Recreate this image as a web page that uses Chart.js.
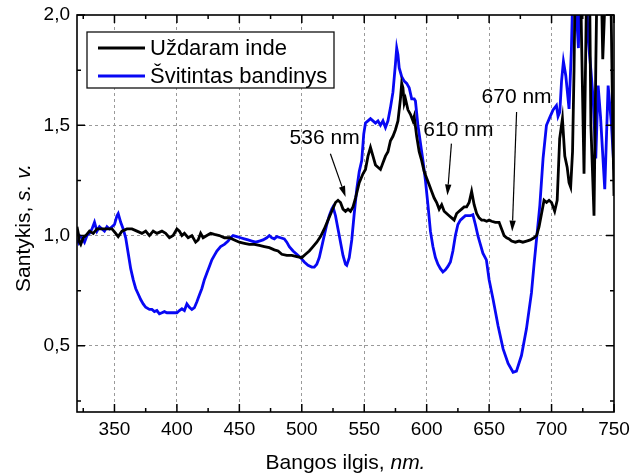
<!DOCTYPE html>
<html>
<head>
<meta charset="utf-8">
<script src="https://cdn.jsdelivr.net/npm/chart.js@4.4.1/dist/chart.umd.min.js"></script>
<style>
  html, body { margin: 0; padding: 0; background: #fff; }
  #wrap { width: 642px; height: 475px; }
</style>
</head>
<body>
<div id="wrap"><canvas id="chart"></canvas></div>
<script>
// series names
const seriesNames = ['Uždaram inde', 'Švitintas bandinys'];
const seriesColors = ['#000000', '#0808f4'];

// Uždaram inde (black)
const blackNm = [320, 321, 322, 323, 325, 327, 330, 333, 336, 340, 344, 348, 351, 353, 356, 360, 364, 368, 372, 375,
  378, 381, 384, 388, 391, 394, 397, 400, 402, 404, 406, 409, 412, 415, 417, 419, 421, 424, 427, 430,
  434, 438, 442, 446, 450, 454, 458, 462, 466, 470, 474, 478, 481, 484, 488, 492, 496, 500, 503, 506,
  509, 512, 515, 518, 521, 524, 527, 529, 531, 533, 535, 537, 539, 541, 543, 546, 549, 551, 553, 555,
  557, 559, 561, 563, 565, 567, 569, 571, 573, 575, 577, 579, 580, 581, 582, 583, 585, 587, 589, 590,
  592, 594, 596, 598, 600, 602, 604, 606, 608, 610, 612, 614, 616, 618, 620, 622, 624, 626, 628, 630,
  632, 634, 636, 638, 640, 642, 644, 646, 648, 650, 652, 655, 658, 660, 662, 664, 666, 668, 671, 674,
  677, 680, 683, 686, 688, 690, 692, 694, 696, 698, 700, 702.5, 704.5, 706.5, 708.7, 710.6, 712.5, 714, 715.3, 716.8,
  718, 719.5, 721, 723, 726, 728, 730, 731.5, 734, 735.5, 737, 739, 741, 743, 745, 747, 749, 750];
const blackVal = [1.04, 1.01, 0.97, 0.96, 0.99, 1.00, 1.02, 1.01, 1.03, 1.03, 1.03, 1.03, 1.01, 0.995, 1.02, 1.03, 1.03, 1.02, 1.01, 1.02,
  1.00, 1.02, 1.01, 1.02, 1.01, 0.99, 1.00, 1.03, 1.02, 1.00, 1.01, 0.99, 1.00, 0.97, 0.98, 1.01, 0.99, 1.00, 1.01, 1.005,
  1.00, 0.99, 0.99, 0.98, 0.97, 0.965, 0.96, 0.96, 0.955, 0.95, 0.945, 0.935, 0.93, 0.915, 0.91, 0.91, 0.905, 0.90, 0.915, 0.93,
  0.95, 0.97, 0.995, 1.03, 1.07, 1.11, 1.15, 1.16, 1.15, 1.12, 1.11, 1.12, 1.11, 1.13, 1.17, 1.24, 1.28, 1.30, 1.36, 1.40,
  1.36, 1.32, 1.31, 1.30, 1.33, 1.36, 1.38, 1.43, 1.45, 1.48, 1.52, 1.62, 1.69, 1.67, 1.60, 1.62, 1.57, 1.55, 1.52, 1.54,
  1.45, 1.38, 1.34, 1.29, 1.26, 1.23, 1.20, 1.17, 1.15, 1.12, 1.14, 1.11, 1.10, 1.09, 1.08, 1.07, 1.10, 1.11, 1.12, 1.13,
  1.13, 1.15, 1.20, 1.14, 1.10, 1.08, 1.07, 1.07, 1.065, 1.07, 1.065, 1.06, 1.06, 1.03, 1.00, 0.99, 0.985, 0.975, 0.97, 0.975,
  0.97, 0.975, 0.98, 0.99, 1.00, 1.04, 1.10, 1.16, 1.15, 1.16, 1.15, 1.11, 1.16, 1.44, 1.53, 1.36, 1.31, 1.24, 1.22, 1.38,
  1.75, 2.4, 2.4, 2.2, 1.28, 2.1, 2.4, 1.5, 1.09, 1.8, 2.4, 2.4, 1.8, 2.1, 2.4, 2.3, 1.5, 1.18];

// Švitintas bandinys (blue)
const blueNm = [320, 321, 322, 324, 326, 328, 330, 332, 334, 336, 338, 340, 342, 344, 346, 348, 350, 352, 353, 355,
  357, 359, 361, 363, 365, 367, 369, 371, 373, 375, 378, 380, 382, 384, 386, 388, 390, 392, 395, 398,
  400, 402, 404, 406, 408, 410, 412, 414, 416, 418, 420, 422, 424, 426, 428, 430, 432, 435, 438, 441,
  443, 445, 448, 451, 454, 457, 460, 463, 466, 469, 472, 474, 476, 478, 480, 483, 486, 488, 490, 493,
  496, 499, 502, 505, 508, 510, 512, 514, 516, 518, 520, 522, 524, 525, 527, 529, 531, 533, 535, 536,
  538, 540, 542, 544, 546, 548, 549.6, 551, 553, 555, 557, 559, 561, 563, 565, 567, 569, 571, 573, 575,
  576, 577, 578, 580, 582, 584, 586, 588, 590, 591, 593, 595, 597, 599, 601, 603, 605, 607, 609, 611,
  613, 615, 617, 619, 621, 623, 625, 627, 629, 631, 633, 635, 637, 639, 641, 643, 645, 647.8, 650, 653.2,
  657.2, 661.2, 665.2, 669.2, 671.9, 675.9, 679.9, 683.9, 686, 688, 690.6, 693.2, 695.9, 698.6, 701.2, 703.9, 705.2, 706.6, 708, 709.5,
  711.4, 714, 715.9, 717.8, 719, 720, 721.5, 723.4, 726, 728, 729.3, 731.5, 733.3, 735.4, 737.3, 739.2, 742.6, 745.3, 748, 750];
const blueVal = [0.98, 0.97, 1.00, 0.99, 0.97, 1.00, 1.01, 1.03, 1.06, 1.02, 1.04, 1.03, 1.02, 1.04, 1.03, 1.04, 1.05, 1.09, 1.10, 1.06,
  1.03, 0.99, 0.92, 0.85, 0.80, 0.76, 0.735, 0.71, 0.69, 0.675, 0.665, 0.665, 0.655, 0.66, 0.645, 0.65, 0.655, 0.65, 0.65, 0.65,
  0.65, 0.66, 0.668, 0.66, 0.69, 0.675, 0.665, 0.673, 0.70, 0.73, 0.76, 0.80, 0.83, 0.86, 0.89, 0.91, 0.93, 0.95, 0.96, 0.975,
  0.99, 1.00, 0.995, 0.99, 0.985, 0.98, 0.975, 0.97, 0.975, 0.98, 0.99, 1.00, 0.99, 0.985, 0.995, 0.99, 0.985, 0.97, 0.95, 0.93,
  0.915, 0.90, 0.88, 0.865, 0.857, 0.857, 0.87, 0.90, 0.95, 1.00, 1.05, 1.09, 1.12, 1.13, 1.09, 1.03, 0.97, 0.91, 0.87, 0.865,
  0.90, 0.98, 1.10, 1.21, 1.29, 1.34, 1.46, 1.51, 1.52, 1.53, 1.52, 1.51, 1.52, 1.50, 1.52, 1.49, 1.52, 1.58, 1.65, 1.78,
  1.85, 1.82, 1.76, 1.72, 1.70, 1.69, 1.67, 1.62, 1.62, 1.61, 1.50, 1.42, 1.34, 1.25, 1.14, 1.02, 0.95, 0.90, 0.87, 0.85,
  0.835, 0.845, 0.86, 0.88, 0.93, 1.00, 1.05, 1.07, 1.08, 1.09, 1.09, 1.09, 1.095, 1.05, 1.00, 0.96, 0.92, 0.89, 0.80, 0.71,
  0.59, 0.486, 0.42, 0.38, 0.385, 0.456, 0.577, 0.74, 0.87, 0.985, 1.136, 1.35, 1.50, 1.536, 1.57, 1.59, 1.54, 1.56, 1.70, 1.79,
  1.725, 1.574, 1.846, 2.3, 2.3, 2.0, 1.85, 2.3, 2.3, 2.1, 1.89, 1.75, 1.62, 1.35, 1.68, 1.54, 1.21, 1.68, 1.5, 1.3];

// axis ranges / ticks
const xRange = [320, 750];
const yRange = [0.2, 2.0];
const xMajor = 50, xMinor = 25;
const yMajor = 0.5, yMinor = 0.25;

// peak notes: label position and arrow (data units)
const notes = [
  { text: '536 nm', at: [518.3, 1.44], from: [522.9, 1.371], to: [535.1, 1.175] },
  { text: '610 nm', at: [625.4, 1.477], from: [619.8, 1.417], to: [616.6, 1.182] },
  { text: '670 nm', at: [672.0, 1.626], from: [672.0, 1.56], to: [668.5, 1.018] }
];

const FONT = '"Liberation Sans", Arial, sans-serif';

function pts(xs, ys) { return xs.map((x, i) => ({ x: x, y: ys[i] })); }
function isMajor(v, step) { return Math.abs(v / step - Math.round(v / step)) < 1e-6; }

const frameTicks = {
  id: 'frameTicks',
  afterDatasetsDraw(chart) {
    const { ctx, chartArea: a, scales: { x, y } } = chart;
    ctx.save();
    ctx.strokeStyle = '#000';
    ctx.lineWidth = 1.5;
    ctx.beginPath();
    x.ticks.forEach(t => {
      const px = x.getPixelForValue(t.value);
      const len = isMajor(t.value, xMajor) ? 8 : 4;
      ctx.moveTo(px, a.bottom); ctx.lineTo(px, a.bottom - len);
      ctx.moveTo(px, a.top); ctx.lineTo(px, a.top + len);
    });
    y.ticks.forEach(t => {
      const py = y.getPixelForValue(t.value);
      const len = isMajor(t.value, yMajor) ? 8 : 4;
      ctx.moveTo(a.left, py); ctx.lineTo(a.left + len, py);
      ctx.moveTo(a.right, py); ctx.lineTo(a.right - len, py);
    });
    ctx.stroke();
    ctx.lineWidth = 1.6;
    ctx.strokeRect(a.left, a.top, a.right - a.left, a.bottom - a.top);
    ctx.restore();
  }
};

function drawParts(ctx, parts, size) {
  let w = 0;
  parts.forEach(p => { ctx.font = (p[1] ? 'italic ' : '') + size + 'px ' + FONT; w += ctx.measureText(p[0]).width; });
  let cx = -w / 2;
  parts.forEach(p => {
    ctx.font = (p[1] ? 'italic ' : '') + size + 'px ' + FONT;
    ctx.fillText(p[0], cx, 0);
    cx += ctx.measureText(p[0]).width;
  });
}

const axisTitles = {
  id: 'axisTitles',
  afterDraw(chart) {
    const { ctx, chartArea: a } = chart;
    ctx.save();
    ctx.fillStyle = '#000';
    ctx.textBaseline = 'middle';
    ctx.textAlign = 'left';
    ctx.save();
    ctx.translate((a.left + a.right) / 2, 463);
    drawParts(ctx, [['Bangos ilgis, ', false], ['nm.', true]], 21);
    ctx.restore();
    ctx.save();
    ctx.translate(24, 228);
    ctx.rotate(-Math.PI / 2);
    drawParts(ctx, [['Santykis, ', false], ['s. v.', true]], 21);
    ctx.restore();
    ctx.restore();
  }
};

const peakNotes = {
  id: 'peakNotes',
  afterDatasetsDraw(chart) {
    const { ctx, scales: { x, y } } = chart;
    ctx.save();
    ctx.fillStyle = '#000';
    ctx.strokeStyle = '#000';
    ctx.lineWidth = 1.2;
    ctx.font = '21px ' + FONT;
    ctx.textAlign = 'center';
    ctx.textBaseline = 'middle';
    notes.forEach(n => {
      ctx.fillText(n.text, x.getPixelForValue(n.at[0]), y.getPixelForValue(n.at[1]));
      const x1 = x.getPixelForValue(n.from[0]), y1 = y.getPixelForValue(n.from[1]);
      const x2 = x.getPixelForValue(n.to[0]), y2 = y.getPixelForValue(n.to[1]);
      const ang = Math.atan2(y2 - y1, x2 - x1);
      const hl = 11, hw = 3.2;
      const bx = x2 - hl * Math.cos(ang), by = y2 - hl * Math.sin(ang);
      ctx.beginPath();
      ctx.moveTo(x1, y1); ctx.lineTo(bx, by);
      ctx.stroke();
      ctx.beginPath();
      ctx.moveTo(x2, y2);
      ctx.lineTo(bx + hw * Math.sin(ang), by - hw * Math.cos(ang));
      ctx.lineTo(bx - hw * Math.sin(ang), by + hw * Math.cos(ang));
      ctx.closePath();
      ctx.fill();
    });
    ctx.restore();
  }
};

const legendBox = {
  id: 'legendBox',
  afterDatasetsDraw(chart) {
    const { ctx, chartArea: a } = chart;
    const bx = a.left + 10, by = a.top + 17, bw = 247, bh = 56;
    ctx.save();
    ctx.fillStyle = '#fff';
    ctx.fillRect(bx, by, bw, bh);
    ctx.strokeStyle = '#111';
    ctx.lineWidth = 1.3;
    ctx.strokeRect(bx, by, bw, bh);
    ctx.font = '22px ' + FONT;
    ctx.textBaseline = 'middle';
    ctx.textAlign = 'left';
    chart.data.datasets.forEach((ds, i) => {
      const ry = by + 16 + i * 28;
      ctx.strokeStyle = ds.borderColor;
      ctx.lineWidth = 3;
      ctx.beginPath();
      ctx.moveTo(bx + 11, ry); ctx.lineTo(bx + 58, ry);
      ctx.stroke();
      ctx.fillStyle = '#000';
      ctx.fillText(ds.label, bx + 63, ry + 1);
    });
    ctx.restore();
  }
};

const ctx = document.getElementById('chart').getContext('2d');
const chart = new Chart(ctx, {
  type: 'line',
  data: {
    datasets: [
      {
        label: seriesNames[0],
        data: pts(blackNm, blackVal),
        borderColor: seriesColors[0],
        borderWidth: 2.8,
        pointRadius: 0,
        tension: 0
      },
      {
        label: seriesNames[1],
        data: pts(blueNm, blueVal),
        borderColor: seriesColors[1],
        borderWidth: 2.8,
        pointRadius: 0,
        tension: 0
      }
    ]
  },
  options: {
    responsive: true,
    maintainAspectRatio: false,
    animation: false,
    layout: { padding: { top: 15, right: 28, left: 0, bottom: 0 } },
    plugins: { legend: { display: false }, tooltip: { enabled: false } },
    scales: {
      x: {
        type: 'linear',
        min: xRange[0],
        max: xRange[1],
        afterFit(s) { s.height = 63; s.paddingLeft = 0; s.paddingRight = 0; },
        ticks: {
          stepSize: xMinor,
          includeBounds: false,
          autoSkip: false,
          maxRotation: 0,
          padding: 6,
          color: '#000',
          font: { family: FONT, size: 19 },
          callback: v => isMajor(v, xMajor) ? String(v) : ''
        },
        grid: {
          drawTicks: false,
          lineWidth: 1,
          color: c => (c.tick && isMajor(c.tick.value, xMajor) && c.tick.value < xRange[1]) ? '#9a9a9a' : 'rgba(0,0,0,0)'
        },
        border: { display: false, dash: [3, 3] }
      },
      y: {
        min: yRange[0],
        max: yRange[1],
        afterFit(s) { s.width = 77; s.paddingTop = 0; s.paddingBottom = 0; },
        ticks: {
          stepSize: yMinor,
          includeBounds: false,
          autoSkip: false,
          padding: 7,
          color: '#000',
          font: { family: FONT, size: 19 },
          callback: v => isMajor(v, yMajor) ? v.toFixed(1).replace('.', ',') : ''
        },
        grid: {
          drawTicks: false,
          lineWidth: 1,
          color: c => (c.tick && isMajor(c.tick.value, yMajor) && c.tick.value < yRange[1]) ? '#9a9a9a' : 'rgba(0,0,0,0)'
        },
        border: { display: false, dash: [3, 3] }
      }
    }
  },
  plugins: [frameTicks, peakNotes, legendBox, axisTitles]
});
</script>
</body>
</html>
